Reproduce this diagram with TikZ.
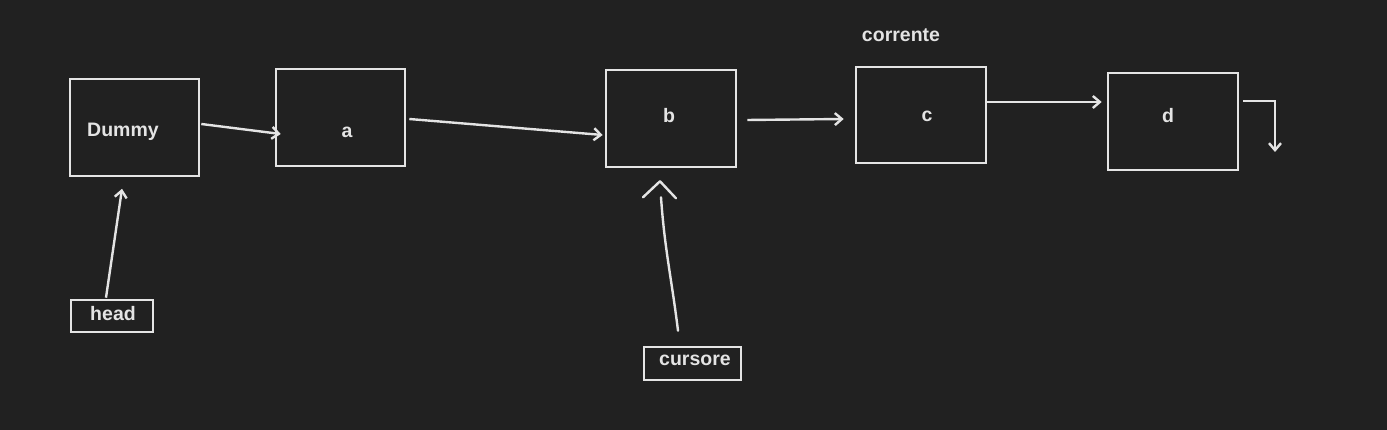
\documentclass[tikz,border=0pt]{standalone}
\usepackage{fontspec}
\setmainfont{Liberation Sans}
\usetikzlibrary{arrows.meta,calc}
\definecolor{bg}{HTML}{212121}
\definecolor{ink}{HTML}{E4E4E4}
\tikzset{
  box/.style={draw=ink, line width=2.6pt, rectangle, inner sep=0pt},
  lbl/.style={text=ink, font=\fontsize{19.5}{22}\selectfont\bfseries, inner sep=0pt},
  link/.style={draw=ink, line width=2.4pt, -{Straight Barb[length=7pt,width=12pt,line width=2.4pt]}},
  plain/.style={draw=ink, line width=2.4pt, line cap=round, line join=round}
}
\begin{document}
\begin{tikzpicture}[x=1pt,y=1pt]
\fill[bg] (0,0) rectangle (1387,430);
\useasboundingbox (0,0) rectangle (1387,430);
% boxes
\node[box, minimum width=129pt, minimum height=97pt] (dummy) at (134.5,302.5) {};
\node[box, minimum width=129pt, minimum height=97pt] (a) at (340.5,312.5) {};
\node[box, minimum width=130pt, minimum height=97pt] (b) at (671,311.5) {};
\node[box, minimum width=130pt, minimum height=96pt] (c) at (921,315) {};
\node[box, minimum width=130pt, minimum height=97pt] (d) at (1173,308.5) {};
\node[box, minimum width=82pt, minimum height=32pt] (head) at (112,114) {};
\node[box, minimum width=97pt, minimum height=33pt] (cursore) at (692.5,66.5) {};
% labels
\node[lbl] (tdummy) at (123,298) {Dummy};
\node[lbl] (ta) at (347,298) {a};
\node[lbl] (tb) at (669,314) {b};
\node[lbl] (tc) at (927,314) {c};
\node[lbl] (td) at (1168,314) {d};
\node[lbl] (thead) at (113,116) {head};
\node[lbl] (tcursore) at (695,70) {cursore};
\node[lbl] (tcorrente) at (901,395) {corrente};
% connectors
\draw[link] ($(dummy.east)+(1,3.5)$) -- ($(a.west)+(6,-16.5)$);
\draw[link] ($(a.east)+(3,-1.5)$) -- ($(b.west)+(-2,-16.5)$);
\draw[link] ($(b.east)+(10,-1.5)$) -- ($(c.west)+(-11,-4)$);
\draw[link] ($(c.east)+(0,13)$) -- ($(d.west)+(-5,19.5)$);
\coordinate (dend) at (1275,278);
\draw[link] ($(d.east)+(4,20.5)$) -| (dend);
\draw[link] ($(head.north)+(-6,1)$) -- ($(dummy.south)+(-12.5,-11.5)$);
\coordinate (capex) at ($(b.south)+(-11,-13)$);
\draw[plain] ($(cursore.north)+(-14.5,15)$) to[out=97,in=-86] ($(capex)+(1,-16)$);
\draw[plain] ($(capex)+(-17,-16)$) -- (capex) -- ($(capex)+(16,-17)$);
\end{tikzpicture}
\end{document}
